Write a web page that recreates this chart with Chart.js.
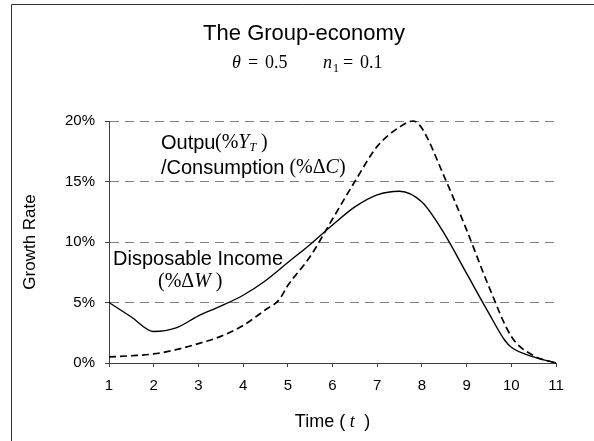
<!DOCTYPE html>
<html>
<head>
<meta charset="utf-8">
<title>The Group-economy</title>
<script src="https://cdn.jsdelivr.net/npm/chart.js@4.4.1/dist/chart.umd.min.js"></script>
<style>
  html, body { margin: 0; padding: 0; background: #ffffff; }
  #grafico { display: block; }
</style>
</head>
<body>
<canvas id="grafico" width="594" height="441"></canvas>
<script>
"use strict";

// Disposable income growth (%ΔW), solid line
var incomeTime = [1, 1.5, 2, 2.5, 3, 3.5, 4, 4.5, 5, 5.5, 6, 6.5, 7, 7.5, 8, 8.5, 9, 9.5, 9.85, 10, 10.5, 11];
var incomeRate = [5.0, 3.8, 2.6, 2.9, 3.9, 4.7, 5.6, 6.8, 8.3, 9.8, 11.4, 12.9, 13.9, 14.2, 13.3, 10.7, 7.4, 4.1, 1.9, 1.3, 0.5, 0];

// Output / consumption growth (%Y_T, %ΔC), dashed line
var outputTime = [1, 1.5, 2, 2.5, 3, 3.5, 4, 4.5, 4.8, 5, 5.5, 6, 6.5, 7, 7.5, 7.8, 8, 8.5, 9, 9.5, 10, 10.5, 11];
var outputRate = [0.5, 0.6, 0.75, 1.1, 1.6, 2.2, 3.1, 4.4, 5.2, 6.4, 8.8, 11.9, 15.0, 17.9, 19.5, 20.0, 19.4, 15.4, 11.0, 6.3, 2.2, 0.6, 0];

var rateTicks = [0, 5, 10, 15, 20];
var timeTicks = [1, 2, 3, 4, 5, 6, 7, 8, 9, 10, 11];

var SANS = "Arial, 'Liberation Sans', sans-serif";
var SERIF = "'Times New Roman', 'Liberation Serif', serif";

function toPoints(xs, ys) {
    return xs.map(function (x, i) { return { x: x, y: ys[i] }; });
}

/** Writes a row of text pieces with their own fonts, one after the other. */
function drawRuns(ctx, x, y, runs) {
    runs.forEach(function (r) {
        if (r.at !== undefined) { x = r.at; }
        ctx.font = r.font;
        ctx.fillText(r.text, x, y + (r.dy || 0));
        x += ctx.measureText(r.text).width;
    });
    return x;
}

function runsWidth(ctx, runs) {
    return runs.reduce(function (acc, r) {
        ctx.font = r.font;
        return acc + ctx.measureText(r.text).width;
    }, 0);
}

var textos = {
    id: "textos",
    beforeDraw: function (chart) {
        var ctx = chart.ctx;
        ctx.save();
        ctx.strokeStyle = "#303030";
        ctx.lineWidth = 1;
        ctx.beginPath();
        ctx.moveTo(11.5, 441);
        ctx.lineTo(11.5, 4.5);
        ctx.lineTo(594, 4.5);
        ctx.stroke();
        ctx.restore();
    },
    afterDraw: function (chart) {
        var ctx = chart.ctx;
        ctx.save();
        ctx.fillStyle = "#000000";

        // title
        ctx.textBaseline = "alphabetic";
        ctx.font = "22px " + SANS;
        ctx.textAlign = "center";
        ctx.fillText("The Group-economy", 304, 40);
        ctx.textAlign = "left";

        // parameters line
        var it = "italic 18px " + SERIF, rm = "18px " + SERIF, sub = "12px " + SERIF;
        drawRuns(ctx, 0, 68, [
            { text: "\u03B8", font: it, at: 232 },
            { text: "=", font: rm, at: 248 },
            { text: "0.5", font: rm, at: 265 },
            { text: "n", font: it, at: 323 },
            { text: "1", font: sub, dy: 4, at: 333 },
            { text: "=", font: rm, at: 343 },
            { text: "0.1", font: rm, at: 360 }
        ]);

        // series labels
        ctx.textBaseline = "middle";
        var lab = "20px " + SANS;
        var mRm = "20px " + SERIF, mIt = "italic 20px " + SERIF, mSub = "italic 12px " + SERIF;
        drawRuns(ctx, 161, 143, [
            { text: "Outpu", font: lab },
            { text: "(%", font: mRm, at: 215 }, { text: "Y", font: mIt }, { text: "T", font: mSub, dy: 5 },
            { text: " )", font: mRm }
        ]);
        drawRuns(ctx, 161, 168, [
            { text: "/Consumption", font: lab },
            { text: " (%\u0394", font: mRm }, { text: "C", font: mIt }, { text: ")", font: mRm }
        ]);
        drawRuns(ctx, 113, 259, [{ text: "Disposable Income", font: lab }]);
        drawRuns(ctx, 158, 282, [
            { text: "(%\u0394", font: mRm }, { text: "W", font: mIt }, { text: " )", font: mRm }
        ]);

        // x axis title
        var xt = [
            { text: "Time (", font: "18px " + SANS },
            { text: " t ", font: "italic 18px " + SERIF },
            { text: " )", font: "18px " + SANS }
        ];
        var area = chart.chartArea;
        drawRuns(ctx, (area.left + area.right) / 2 - runsWidth(ctx, xt) / 2, 422, xt);
        ctx.restore();
    }
};

new Chart(document.getElementById("grafico").getContext("2d"), {
    type: "line",
    data: {
        datasets: [{
            label: "Disposable Income",
            data: toPoints(incomeTime, incomeRate),
            borderColor: "#000000",
            borderWidth: 1.4,
            pointRadius: 0,
            cubicInterpolationMode: "monotone",
            clip: false
        }, {
            label: "Output / Consumption",
            data: toPoints(outputTime, outputRate),
            borderColor: "#000000",
            borderWidth: 1.7,
            borderDash: [7, 4],
            pointRadius: 0,
            cubicInterpolationMode: "monotone",
            clip: false
        }]
    },
    options: {
        responsive: false,
        animation: false,
        events: [],
        layout: { padding: { top: 121, right: 38, bottom: 0, left: 0 } },
        plugins: { legend: { display: false }, title: { display: false }, tooltip: { enabled: false } },
        scales: {
            x: {
                type: "linear",
                min: timeTicks[0],
                max: timeTicks[timeTicks.length - 1],
                afterBuildTicks: function (scale) {
                    scale.ticks = timeTicks.map(function (v) { return { value: v }; });
                },
                afterFit: function (scale) { scale.height = 78; },
                ticks: { color: "#000000", font: { family: SANS, size: 15 }, padding: 10, maxRotation: 0 },
                grid: { drawOnChartArea: false, drawTicks: true, tickLength: 4, tickColor: "#404040" },
                border: { display: true, color: "#404040", width: 1 }
            },
            y: {
                min: rateTicks[0],
                max: rateTicks[rateTicks.length - 1],
                afterBuildTicks: function (scale) {
                    scale.ticks = rateTicks.map(function (v) { return { value: v }; });
                },
                afterFit: function (scale) { scale.width = 109; },
                ticks: {
                    color: "#000000",
                    font: { family: SANS, size: 15 },
                    padding: 10,
                    callback: function (v) { return v + "%"; }
                },
                grid: {
                    color: function (c) { return c.tick && c.tick.value === 0 ? "rgba(0,0,0,0)" : "#808080"; },
                    lineWidth: 1,
                    tickLength: 4,
                    tickColor: "#404040",
                    tickBorderDash: []
                },
                border: { display: true, color: "#404040", width: 1, dash: [9, 6] },
                title: {
                    display: true,
                    text: "Growth Rate",
                    color: "#000000",
                    font: { family: SANS, size: 17 },
                    padding: { top: 20, bottom: 0 }
                }
            }
        }
    },
    plugins: [textos]
});
</script>
</body>
</html>
